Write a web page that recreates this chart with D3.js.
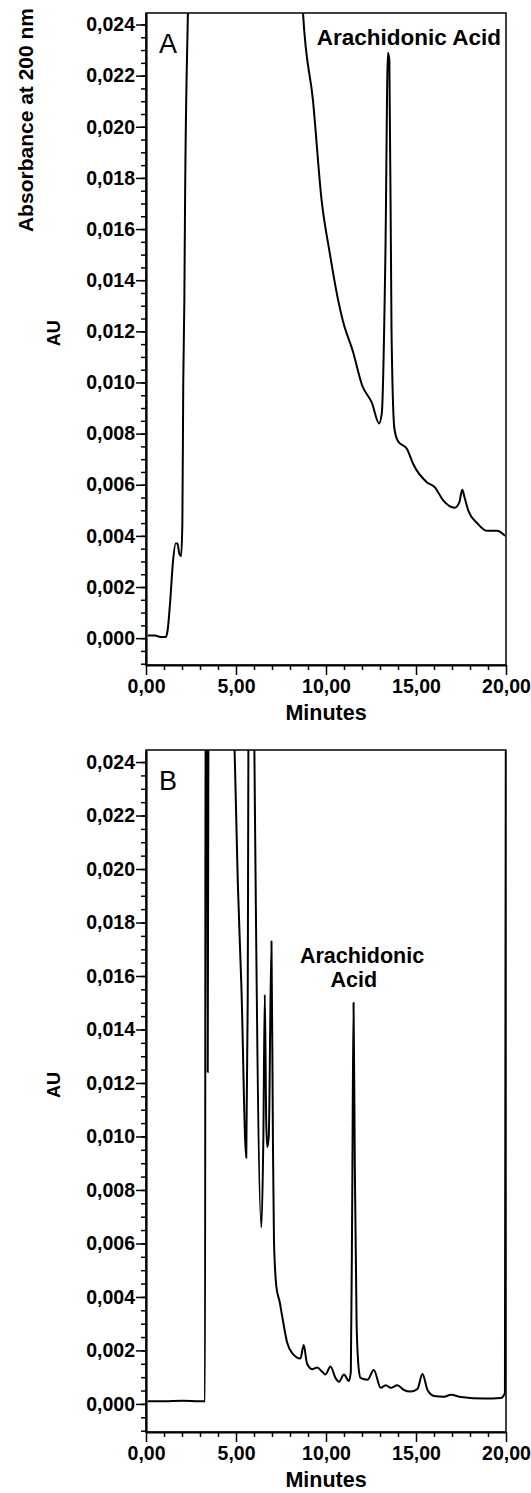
<!DOCTYPE html>
<html>
<head>
<meta charset="utf-8">
<script src="https://cdn.jsdelivr.net/npm/d3@7"></script>
<style>
  body { margin: 0; background: #fff; }
  text { font-family: "Liberation Sans", Arial, sans-serif; fill: #000; }
</style>
</head>
<body>
<svg id="chart"></svg>
<script>
const WIDTH = 531;
const HEIGHT = 1493;

// panel A trace (minutes, AU)
const timesA = [0.1, 0.5, 0.8, 1.1, 1.2, 1.35, 1.5, 1.65, 1.75, 1.85, 1.95, 2.02, 2.07, 2.13, 2.17, 2.33, 2.5,
  5.0, 8.0, 8.72, 9.28, 9.76, 10.2, 10.68, 10.94, 11.5, 12.0, 12.55, 12.95, 13.1, 13.3, 13.44, 13.52, 13.64,
  13.8, 14.0, 14.5, 14.85, 15.6, 16.05, 16.5, 17.15, 17.4, 17.57, 17.7, 17.9, 18.4, 18.93, 19.5, 19.95];
const absA = [0.0001, 0.0001, 0.00005, 0.00005, 0.0003, 0.0015, 0.003, 0.0037, 0.0037, 0.0033, 0.0032, 0.0045, 0.010, 0.0132, 0.0171, 0.0245, 0.03,
  0.1, 0.04, 0.0245, 0.021, 0.0171, 0.0151, 0.0132, 0.0124, 0.0112, 0.0099, 0.0092, 0.0084, 0.0088, 0.015, 0.0229, 0.0226, 0.012,
  0.0082, 0.0077, 0.0074, 0.0068, 0.0061, 0.0059, 0.0054, 0.0051, 0.0053, 0.0058, 0.0055, 0.0050, 0.0045, 0.0042, 0.0042, 0.0040];

// panel B trace (minutes, AU)
const timesB = [0.1, 1.0, 2.0, 3.0, 3.28, 3.31, 3.38, 3.43, 3.48, 4.2, 4.92, 5.1, 5.3, 5.57, 5.65, 5.72, 5.95, 6.02,
  6.41, 6.52, 6.6, 6.68, 6.74, 6.82, 6.97, 7.05, 7.11, 7.24, 7.43, 7.56, 7.84, 8.12, 8.58, 8.76, 8.95, 9.23,
  9.51, 9.79, 9.97, 10.25, 10.53, 10.72, 11.0, 11.27, 11.38, 11.46, 11.53, 11.6, 11.7, 11.82, 11.92, 12.3,
  12.66, 13.04, 13.32, 13.6, 13.96, 14.33, 14.7, 15.08, 15.36, 15.64, 16.0, 16.56, 16.94, 17.5, 18.8, 19.7, 19.94, 20.0];
const absB = [0.0001, 0.0001, 0.00012, 0.0001, 0.0001, 0.03, 0.03, 0.0124, 0.03, 0.06, 0.0245, 0.0195, 0.0156, 0.0092, 0.015, 0.03, 0.03, 0.0245,
  0.0066, 0.010, 0.0153, 0.0105, 0.0096, 0.0100, 0.0173, 0.0100, 0.0061, 0.0044, 0.0038, 0.0033, 0.0023, 0.0019, 0.0017, 0.0022, 0.0015, 0.0013,
  0.00136, 0.0012, 0.0011, 0.0014, 0.00097, 0.00083, 0.0011, 0.00086, 0.0012, 0.008, 0.0150, 0.009, 0.003, 0.0013, 0.00097, 0.0009,
  0.00127, 0.0006, 0.0007, 0.0006, 0.0007, 0.00052, 0.00046, 0.00056, 0.00112, 0.00052, 0.0003, 0.00027, 0.00034, 0.00026, 0.0002, 0.00022, 0.0004, 0.03];

const majorTimes = [0, 5, 10, 15, 20];
const minorTimes = [1, 2, 3, 4, 6, 7, 8, 9, 11, 12, 13, 14, 16, 17, 18, 19];
const majorAbs = [0, 0.002, 0.004, 0.006, 0.008, 0.010, 0.012, 0.014, 0.016, 0.018, 0.020, 0.022, 0.024];
const minorAbs = d3.range(-0.001, 0.02401, 0.0005);

const locale = d3.formatLocale({ decimal: ",", thousands: ".", grouping: [3], currency: ["", ""] });
const fmtX = locale.format(".2f");
const fmtY = locale.format(".3f");

const LEFT = 146, RIGHT = 506;

const panels = [
  { key: "A", top: 13, bottom: 665, times: timesA, abs: absA, labelLines: ["Arachidonic Acid"] },
  { key: "B", top: 750, bottom: 1432, times: timesB, abs: absB, labelLines: ["Arachidonic", "Acid"] },
];

const svg = d3.select("#chart").attr("width", WIDTH).attr("height", HEIGHT);

const x = d3.scaleLinear().domain([0, 20]).range([LEFT, RIGHT]);

panels.forEach((p, i) => {
  const y = d3.scaleLinear().domain([-0.00105, 0.02445]).range([p.bottom, p.top]);
  const g = svg.append("g");

  g.append("clipPath").attr("id", "clip" + i)
    .append("rect").attr("x", LEFT).attr("y", p.top).attr("width", RIGHT - LEFT).attr("height", p.bottom - p.top);

  const pts = p.times.map((t, j) => [t, p.abs[j]]);
  g.append("path")
    .datum(pts)
    .attr("clip-path", `url(#clip${i})`)
    .attr("fill", "none")
    .attr("stroke", "#000")
    .attr("stroke-width", 2)
    .attr("stroke-linejoin", "round")
    .attr("d", d3.line().curve(d3.curveMonotoneX).x(d => x(d[0])).y(d => y(d[1])));

  // frame
  g.append("rect")
    .attr("x", LEFT).attr("y", p.top)
    .attr("width", RIGHT - LEFT).attr("height", p.bottom - p.top)
    .attr("fill", "none").attr("stroke", "#000").attr("stroke-width", 1.5);

  // minor ticks
  g.append("g").attr("transform", `translate(${LEFT},0)`)
    .call(d3.axisLeft(y).tickValues(minorAbs).tickSize(5).tickFormat(""))
    .call(a => a.select(".domain").remove())
    .selectAll("line").attr("stroke-width", 1.5);
  g.append("g").attr("transform", `translate(0,${p.bottom})`)
    .call(d3.axisBottom(x).tickValues(minorTimes).tickSize(5).tickFormat(""))
    .call(a => a.select(".domain").remove())
    .selectAll("line").attr("stroke-width", 1.5);

  // major ticks + labels
  const ya = g.append("g").attr("transform", `translate(${LEFT},0)`)
    .call(d3.axisLeft(y).tickValues(majorAbs).tickSize(10).tickPadding(1).tickSizeOuter(0).tickFormat(fmtY));
  ya.select(".domain").attr("stroke-width", 2.2);
  ya.selectAll("line").attr("stroke-width", 1.5);
  ya.selectAll("text").attr("font-size", 19.5).attr("font-weight", "bold")
    .attr("font-family", "'Liberation Sans', Arial, sans-serif");

  const xa = g.append("g").attr("transform", `translate(0,${p.bottom})`)
    .call(d3.axisBottom(x).tickValues(majorTimes).tickSize(10).tickPadding(4).tickSizeOuter(0).tickFormat(fmtX));
  xa.select(".domain").attr("stroke-width", 2.2);
  xa.selectAll("line").attr("stroke-width", 1.5);
  xa.selectAll("text").attr("font-size", 19.5).attr("font-weight", "bold")
    .attr("font-family", "'Liberation Sans', Arial, sans-serif");

  g.append("text")
    .attr("x", (LEFT + RIGHT) / 2).attr("y", p.bottom + 55)
    .attr("text-anchor", "middle").attr("font-size", 21.5).attr("font-weight", "bold")
    .text("Minutes");

  g.append("text")
    .attr("transform", `translate(60,${y(0.012) + 2}) rotate(-90)`)
    .attr("text-anchor", "middle").attr("font-size", 18).attr("font-weight", "bold")
    .text("AU");

  g.append("text")
    .attr("x", LEFT + 13).attr("y", p.top + 40)
    .attr("font-size", 27)
    .text(p.key);

  if (p.key === "A") {
    g.append("text")
      .attr("x", RIGHT - 5).attr("y", p.top + 32)
      .attr("text-anchor", "end").attr("font-size", 22.5).attr("font-weight", "bold")
      .text(p.labelLines[0]);
  } else {
    g.append("text")
      .attr("x", x(12.0)).attr("y", y(0.0165))
      .attr("text-anchor", "middle").attr("font-size", 21.5).attr("font-weight", "bold")
      .text(p.labelLines[0]);
    g.append("text")
      .attr("x", x(11.55)).attr("y", y(0.0156))
      .attr("text-anchor", "middle").attr("font-size", 21.5).attr("font-weight", "bold")
      .text(p.labelLines[1]);
  }
});

svg.append("text")
  .attr("transform", "translate(33,120) rotate(-90)")
  .attr("text-anchor", "middle").attr("font-size", 21).attr("font-weight", "bold")
  .text("Absorbance at 200 nm");
</script>
</body>
</html>
